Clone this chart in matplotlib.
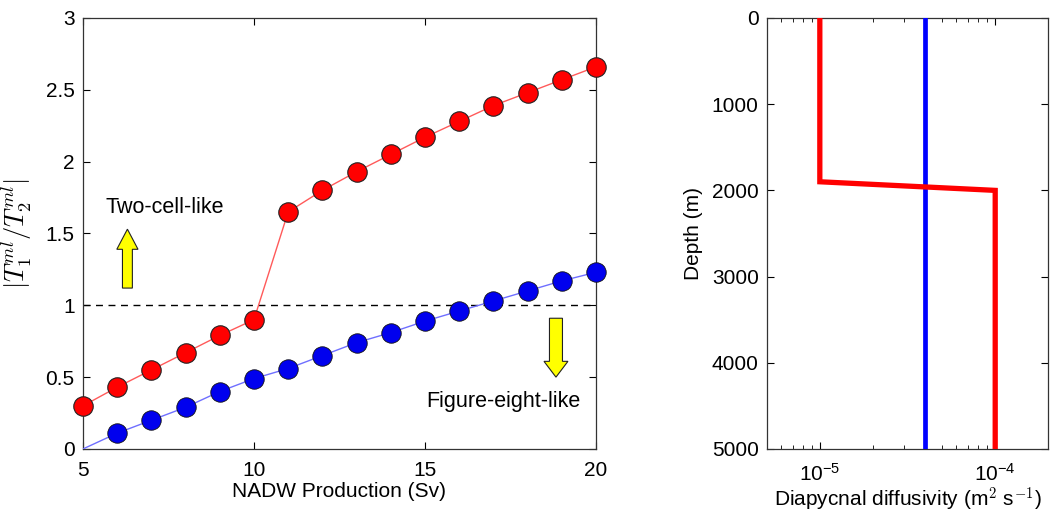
import numpy as np
import matplotlib
matplotlib.use("Agg")
import matplotlib.pyplot as plt
from matplotlib.patches import FancyArrow

plt.rcParams['font.family'] = ['Liberation Sans', 'DejaVu Sans']
plt.rcParams['mathtext.fontset'] = 'cm'

# ---- data ----
nadw = [5, 6, 7, 8, 9, 10, 11, 12, 13, 14, 15, 16, 17, 18, 19, 20]
ratio_red = [0.30, 0.43, 0.55, 0.67, 0.79, 0.90, 1.65, 1.80, 1.93, 2.05, 2.17,
             2.28, 2.39, 2.48, 2.57, 2.66]
ratio_blue = [0.0, 0.11, 0.20, 0.29, 0.40, 0.49, 0.56, 0.65, 0.74, 0.81, 0.89,
              0.96, 1.03, 1.10, 1.17, 1.23]
xticks_left = [5, 10, 15, 20]
yticks_left = [0, 0.5, 1, 1.5, 2, 2.5, 3]

depth_red = [0, 1900, 2000, 5000]
kappa_red = [1e-5, 1e-5, 1e-4, 1e-4]
depth_blue = [0, 5000]
kappa_blue = [4e-5, 4e-5]
yticks_right = [0, 1000, 2000, 3000, 4000, 5000]

fig = plt.figure(figsize=(10.5, 5.14), dpi=100)

# ---- left panel ----
ax = fig.add_axes([0.0790, 0.1265, 0.4886, 0.8385])
ax.plot([5, 20], [1, 1], '--', color='black', lw=1.0, dashes=(5, 4))
ax.plot(nadw, ratio_red, '-', color='#ff5a5a', lw=1.0, zorder=3)
ax.plot(nadw, ratio_red, 'o', ms=14, mfc='#ff0000', mec='#222222', mew=0.8,
        clip_on=False, zorder=4)
ax.plot(nadw, ratio_blue, '-', color='#6f6fff', lw=1.0, zorder=3)
ax.plot(nadw[1:], ratio_blue[1:], 'o', ms=14, mfc='#0000ee', mec='#111111', mew=0.6,
        clip_on=False, zorder=4)
ax.set_xlim(5, 20)
ax.set_ylim(0, 3)
ax.set_xticks(xticks_left)
ax.set_yticks(yticks_left)
ax.set_yticklabels(['0', '0.5', '1', '1.5', '2', '2.5', '3'])
ax.tick_params(direction='in', length=5, width=0.8, labelsize=15,
               top=True, right=True, pad=6)
ax.tick_params(axis='x', pad=9)
ax.set_xlabel('NADW Production (Sv)', fontsize=15, labelpad=1)
ax.set_ylabel(r'$|T_1^{ml}/T_2^{ml}|$', fontsize=19, labelpad=8)
for s in ax.spines.values():
    s.set_linewidth(0.9)
    s.set_color('#333333')

ax.add_patch(FancyArrow(6.30, 1.12, 0, 0.41, width=0.29, head_width=0.62,
                        head_length=0.14, length_includes_head=True,
                        fc='#ffff00', ec='#222222', lw=0.8, zorder=5))
ax.add_patch(FancyArrow(18.83, 0.91, 0, -0.41, width=0.38, head_width=0.70,
                        head_length=0.11, length_includes_head=True,
                        fc='#ffff00', ec='#222222', lw=0.8, zorder=5))
ax.text(5.67, 1.68, 'Two-cell-like', fontsize=15.5, ha='left', va='center')
ax.text(15.03, 0.33, 'Figure-eight-like', fontsize=15.5, ha='left', va='center')

# ---- right panel ----
ax2 = fig.add_axes([0.7305, 0.1265, 0.2676, 0.8385])
ax2.plot(kappa_blue, depth_blue, '-', color='#0000ff', lw=3.4, zorder=3)
ax2.plot(kappa_red, depth_red, '-', color='#ff0000', lw=3.8, zorder=4,
         solid_joinstyle='miter')
ax2.set_xscale('log')
ax2.set_xlim(5e-6, 2e-4)
ax2.set_ylim(5000, 0)
ax2.set_yticks(yticks_right)
ax2.tick_params(which='major', direction='in', length=5, width=0.8, labelsize=15,
                top=True, right=True, pad=6)
ax2.tick_params(which='minor', direction='in', length=3, width=0.6,
                top=True, right=True)
ax2.tick_params(axis='x', which='major', pad=10)
ax2.set_xlabel(r'Diapycnal diffusivity (m$^2$ s$^{-1}$)', fontsize=15, labelpad=1)
ax2.set_ylabel('Depth (m)', fontsize=15, labelpad=6)
for s in ax2.spines.values():
    s.set_linewidth(0.9)
    s.set_color('#333333')

fig.savefig('out.png', dpi=100)
